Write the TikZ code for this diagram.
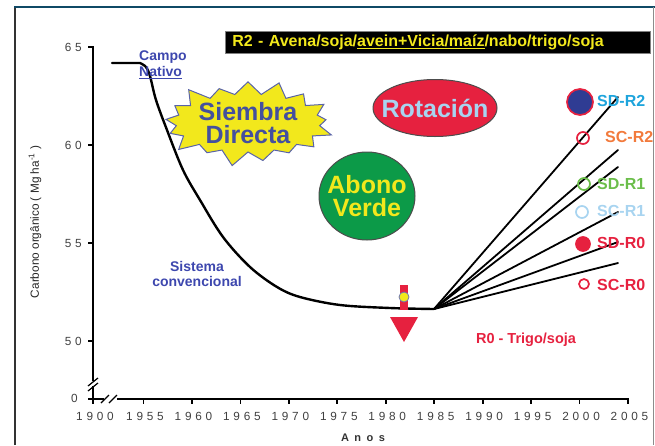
\documentclass[tikz,border=0pt]{standalone}
\usepackage{fontspec}
\setmainfont{Liberation Sans}
\newfontfamily\axisfont[LetterSpace=32]{Liberation Sans}
\newfontfamily\anosfont[LetterSpace=50]{Liberation Sans}
\usepackage{tikz}
\usetikzlibrary{shapes.symbols, shapes.geometric, positioning}

\definecolor{txtblue}{HTML}{3D47AE}
\definecolor{rred}{HTML}{E6213F}
\definecolor{agreen}{HTML}{0C9A48}
\definecolor{ayellow}{HTML}{F2E81C}
\definecolor{sdblue}{HTML}{1EA4DC}
\definecolor{scorange}{HTML}{F27A3C}
\definecolor{sdgreen}{HTML}{6BBE4A}
\definecolor{sclight}{HTML}{A8D4F0}
\definecolor{navy}{HTML}{2F3C93}
\definecolor{framebl}{HTML}{0F4A66}

\begin{document}
\begin{tikzpicture}[x=1pt,y=-1pt,
	curve/.style={line width=2.4pt, line cap=round, line join=round},
	fan/.style={line width=1.8pt, line cap=round},
	axis/.style={line width=1.8pt},
	ticklab/.style={font=\axisfont\fontsize{11.8}{12}\selectfont, text=black!75, inner sep=0pt},
	dot/.style={circle, draw, line width=1.7pt, minimum size=#1, inner sep=0pt},
	rlab/.style={font=\bfseries\fontsize{16}{18}\selectfont, anchor=west, inner sep=0pt},
	big/.style={font=\bfseries\fontsize{25}{23}\selectfont, align=center, inner sep=0pt},
	small/.style={font=\bfseries\fontsize{14}{15}\selectfont, text=txtblue, align=center, inner sep=0pt}]
	\useasboundingbox (0,0) rectangle (655,445);
	% frame
	\draw[line width=2pt, black!80] (15,445) -- (15,7);
	\draw[line width=2pt, framebl] (14,7) -- (655,7);
	\draw[line width=1pt, black!45] (653.5,7) -- (653.5,445);

	% title
	\node[fill=black, draw=gray, line width=0.8pt, minimum height=19pt, text width=411pt, inner xsep=7pt, align=left,
		anchor=west, text=ayellow, font=\bfseries\fontsize{16}{18}\selectfont] (r2) at (225,42.5)
		{R2 - Avena/soja/\underline{avein+Vicia/maíz}/nabo/trigo/soja};

	% axes
	\draw[axis] (88,47) -- (93,47) -- (93,381);
	\draw[axis] (93,386) -- (93,404);
	\draw[axis] (88,399) -- (104,399);
	\draw[axis] (117,399) -- (628,399) -- (628,404);
	\draw[line width=1.2pt] (88,386) -- (98,378) (88,391) -- (98,383);
	\draw[line width=1.2pt] (101,403) -- (109,395) (109,403) -- (117,395);
	\foreach \v/\yy in {65/47, 60/145, 55/243, 50/341} {
		\draw[axis] (88,\yy) -- (93,\yy);
		\node[ticklab, anchor=east] at (82,\yy) {\v};
	}
	\node[ticklab, anchor=east] at (78,398) {0};
	\node[ticklab] at (95,416) {1900};
	\foreach \yr in {1955,1960,...,2005} {
		\draw[axis] ({143.5+(\yr-1955)*9.69},399) -- ({143.5+(\yr-1955)*9.69},404);
		\node[ticklab] at ({145+(\yr-1955)*9.69},416) {\yr};
	}
	\node[font=\anosfont\bfseries\fontsize{11}{12}\selectfont, text=black!80] (anos) at (363,438) {Anos};
	\node[rotate=90, font=\fontsize{11.8}{12}\selectfont, text=black!85] (ylab) at (35,222)
		{Carbono orgânico ( Mg ha\textsuperscript{-1} )};

	% curve
	\draw[curve] (112,63) -- plot[smooth, tension=0.55] coordinates {(140,63) (146,67) (150,76) (156,100)
		(167,130) (183,170) (200,200) (223,237) (250,267) (277,287) (300,297) (340,305) (390,308) (434,309)};
	\coordinate (fan) at (434,309);
	\foreach \e in {97,150,167,212,242,263}
		\draw[fan] (fan) -- (618,\e);

	% labels on the plot
	\node[font=\bfseries\fontsize{14}{16}\selectfont, text=txtblue, align=left, inner sep=0pt, anchor=north west] (campo) at (139,51)
		{Campo\\\underline{Nativo}};
	\node[small] (conv) at (197,274) {Sistema\\convencional};
	\node[starburst, starburst points=17, starburst point height=17pt,
		fill=ayellow, draw=navy!80, line width=1pt, minimum width=178pt, minimum height=92pt, inner sep=0pt] (sd) at (248,123) {};
	\node[big, text=navy!90] at (sd) {Siembra\\Directa};
	\node[ellipse, fill=rred, draw=black!70, line width=1pt, minimum width=124pt, minimum height=57pt] (rot) at (435,108) {};
	\node[big, text=sclight] at (rot) {Rotación};
	\node[ellipse, fill=agreen, draw=black!70, line width=1pt, minimum width=96pt, minimum height=88pt] (abono) at (367,196) {};
	\node[big, text=ayellow] at (abono) {Abono\\Verde};
	\node[font=\bfseries\fontsize{14.5}{16}\selectfont, text=rred, inner sep=0pt] (r0) at (526,340) {R0 - Trigo/soja};

	% 1982 marker
	\fill[rred] (400,285) rectangle (408,310);
	\node[circle, fill=ayellow, draw=navy!70, line width=0.8pt, minimum size=10pt, inner sep=0pt] (yel) at (404,297) {};
	\fill[rred] (390,317) -- (418,317) -- (404,342) -- cycle;

	% points
	\node[dot=26pt, draw=rred, fill=navy] (sdr2) at (580,102) {};
	\node[dot=12pt, draw=rred] (scr2) at (583,138) {};
	\node[dot=12pt, draw=sdgreen] (sdr1) at (584,184) {};
	\node[dot=12pt, draw=sclight] (scr1) at (582,212) {};
	\node[dot=14pt, draw=rred, fill=rred] (sdr0) at (583,244) {};
	\node[dot=10pt, draw=rred] (scr0) at (584,284) {};
	\node[rlab, text=sdblue] at (597,101) {SD-R2};
	\node[rlab, text=scorange] at (605,137) {SC-R2};
	\node[rlab, text=sdgreen] at (597,184) {SD-R1};
	\node[rlab, text=sclight] at (597,211) {SC-R1};
	\node[rlab, text=rred] at (597,243) {SD-R0};
	\node[rlab, text=rred] at (597,285) {SC-R0};
\end{tikzpicture}
\end{document}
